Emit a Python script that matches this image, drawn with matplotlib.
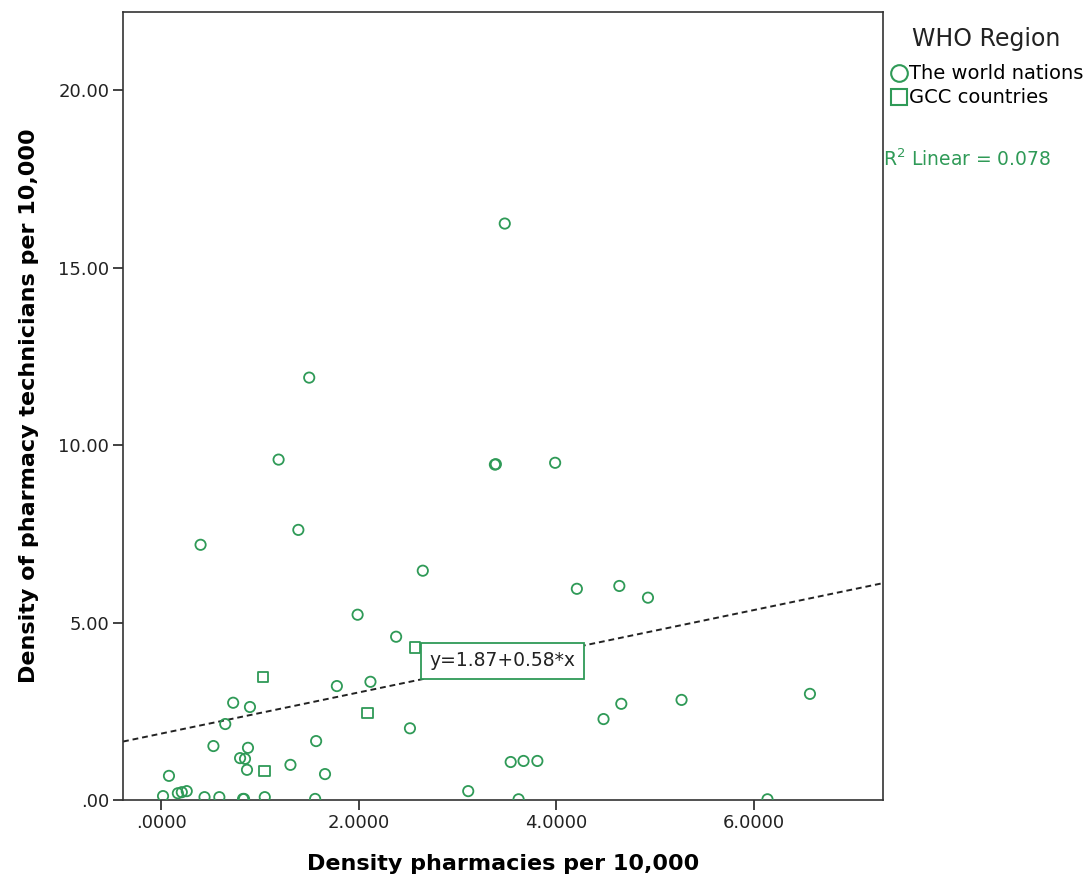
import numpy as np
import matplotlib
matplotlib.use("Agg")
import matplotlib.pyplot as plt
from matplotlib.lines import Line2D

# =====================================================
# DATA
# =====================================================

world_x = [3.48, 1.50, 1.19, 3.38, 3.39, 3.99, 1.39, 0.40, 2.65, 4.21,
           4.64, 4.93, 1.99, 2.38, 2.12, 1.78, 0.73, 0.90, 0.65, 2.52,
           4.48, 4.66, 5.27, 6.57, 0.53, 0.88, 1.57, 0.80, 0.85, 0.87,
           1.31, 1.66, 0.08, 3.54, 3.67, 3.81, 3.11, 0.02, 0.17, 0.21,
           0.26, 0.44, 0.59, 0.83, 0.84, 1.05, 1.56, 3.62, 6.14]
world_y = [16.24, 11.90, 9.59, 9.45, 9.46, 9.50, 7.61, 7.19, 6.46, 5.95,
           6.03, 5.70, 5.22, 4.60, 3.33, 3.21, 2.74, 2.62, 2.14, 2.02,
           2.28, 2.71, 2.82, 2.99, 1.52, 1.47, 1.66, 1.18, 1.16, 0.85,
           0.99, 0.73, 0.68, 1.07, 1.10, 1.10, 0.25, 0.11, 0.19, 0.22,
           0.25, 0.08, 0.08, 0.03, 0.03, 0.08, 0.03, 0.02, 0.02]

gcc_x = [2.57, 1.03, 2.09, 1.05]
gcc_y = [4.29, 3.46, 2.45, 0.82]

intercept = 1.87
slope = 0.58
r2 = 0.078

green = '#2f9a57'

plt.rcParams['font.family'] = ['DejaVu Sans']

# =====================================================
# PLOT
# =====================================================

fig = plt.figure(figsize=(10.86, 8.83), dpi=100)
ax = fig.add_axes([0.1133, 0.094, 0.6998, 0.8924])

ax.scatter(world_x, world_y, s=55, facecolors='none', edgecolors=green,
           linewidths=1.3, marker='o', zorder=3, clip_on=True)
ax.scatter(gcc_x, gcc_y, s=58, facecolors='none', edgecolors=green,
           linewidths=1.3, marker='s', zorder=3, clip_on=True)

xmin, xmax = -0.385, 7.31
xs = np.array([xmin, xmax])
ax.plot(xs, intercept + slope * xs, color='#222222', linestyle=(0, (3, 2)),
        linewidth=1.4, zorder=2)

ax.text(3.46, 3.92, 'y=1.87+0.58*x', ha='center', va='center', fontsize=13.5,
        color='#222222',
        bbox=dict(boxstyle='square,pad=0.45', facecolor='white',
                  edgecolor=green, linewidth=1.3), zorder=4)

ax.set_xlim(xmin, xmax)
ax.set_ylim(0, 22.2)

ax.set_xticks([0, 2, 4, 6])
ax.set_xticklabels(['.0000', '2.0000', '4.0000', '6.0000'])
ax.set_yticks([0, 5, 10, 15, 20])
ax.set_yticklabels(['.00', '5.00', '10.00', '15.00', '20.00'])

ax.tick_params(axis='both', direction='out', length=7, width=1.2,
               labelsize=13, colors='#222222', pad=3)

for sp in ax.spines.values():
    sp.set_color('#333333')
    sp.set_linewidth(1.2)

ax.set_xlabel('Density pharmacies per 10,000', fontsize=16,
              fontweight='bold', labelpad=16)
ax.set_ylabel('Density of pharmacy technicians per 10,000', fontsize=16,
              fontweight='bold', labelpad=14)

# Legend
handles = [
    Line2D([], [], marker='o', linestyle='none', markersize=12,
           markerfacecolor='none', markeredgecolor=green,
           markeredgewidth=1.5, label='The world nations'),
    Line2D([], [], marker='s', linestyle='none', markersize=12,
           markerfacecolor='none', markeredgecolor=green,
           markeredgewidth=1.5, label='GCC countries'),
]
fig.text(0.840, 0.956, 'WHO Region', fontsize=17, color='#222222',
         va='center')
leg = fig.legend(handles=handles, loc='upper left',
                 bbox_to_anchor=(0.819, 0.927), frameon=False,
                 fontsize=14, handletextpad=0.0, handlelength=1.0,
                 labelspacing=0.25, borderaxespad=0, borderpad=0)

fig.text(0.813, 0.820, r'R$^{2}$ Linear = 0.078', fontsize=13.5, color=green,
         va='center')

fig.savefig('out.png', dpi=100)
